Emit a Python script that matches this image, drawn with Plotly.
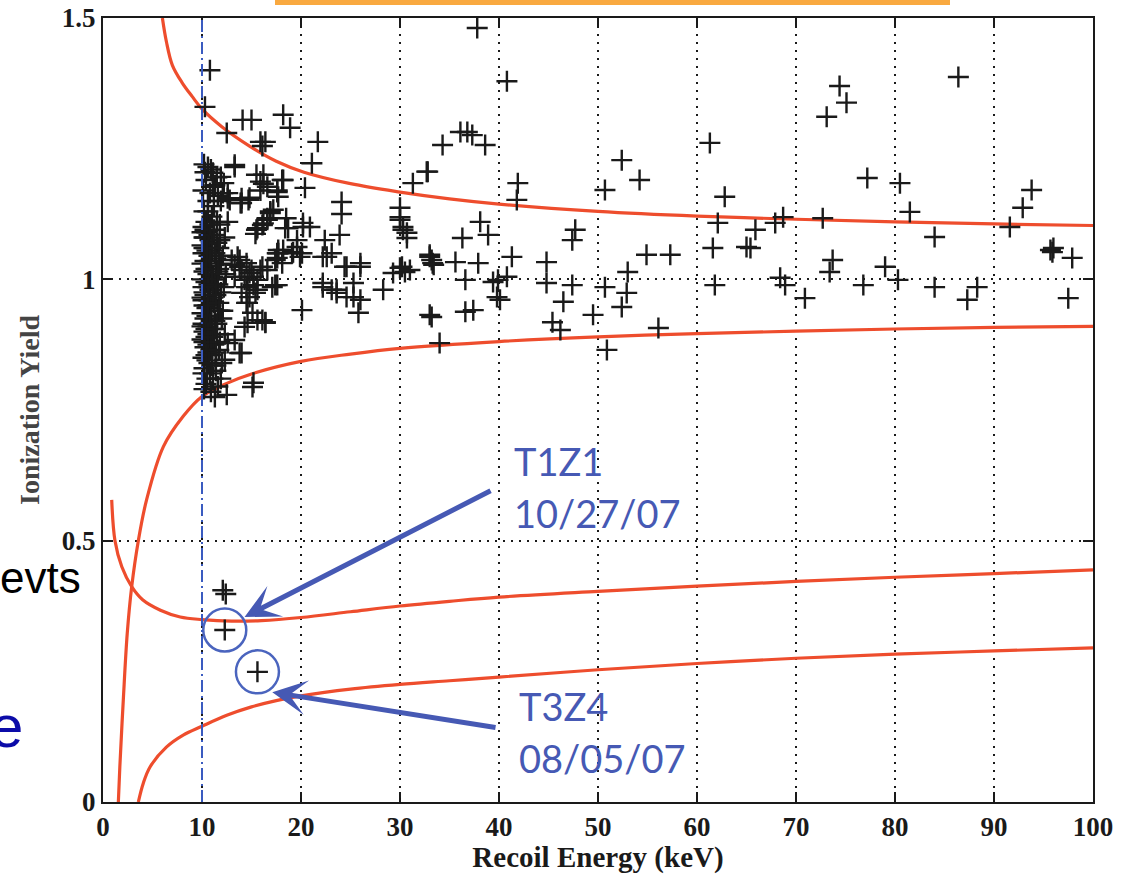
import plotly.graph_objects as go

# ---- event data: recoil energy (keV) and ionization yield ----
cluster_energy = [
    10.2, 10.9, 10.4, 11.3, 10.1, 11.6, 10.6, 10.2, 11.0, 10.4, 11.8, 10.1,
    10.0, 10.5, 11.2, 10.2, 10.8, 11.5, 10.0, 10.4, 11.0, 10.1, 10.7, 11.4,
    10.3, 10.0, 10.9, 11.7, 10.2, 10.6, 11.1, 10.0, 10.4, 11.3, 10.1, 10.8,
    11.9, 10.3, 10.0, 10.7, 11.2, 10.2, 10.5, 11.6, 10.0, 10.9, 10.3, 11.3,
    10.1, 10.6, 11.0, 10.2, 11.5, 10.4, 10.0, 10.8, 11.2, 10.3, 10.6, 11.0,
    10.1, 10.5, 11.4, 10.2, 10.8, 11.1, 10.4, 11.6, 10.9, 11.3,
    10.3, 10.6, 10.1, 10.5, 10.7, 10.2, 10.9, 11.4, 10.6, 10.0,
    10.3, 10.7, 11.0, 10.5, 11.3, 10.8, 10.4, 11.0, 10.6, 10.2, 11.1, 10.6,
    10.8, 10.4, 10.6, 10.2, 11.1, 10.9, 10.4, 11.4, 10.7, 10.1, 11.0, 10.5,
    10.2, 11.3, 11.6, 11.9, 12.1, 11.8, 12.0, 11.5, 10.6, 11.2, 10.8, 11.5,
    10.3, 11.9, 12.3, 11.7,
    11.8, 12.1, 11.6, 12.2, 11.7, 12.0, 11.5, 12.3, 11.7, 11.4, 11.9, 12.4,
    11.2, 10.8, 11.4, 11.8,
]
cluster_yield = [
    1.22, 1.21, 1.19, 1.18, 1.17, 1.16, 1.15, 1.13, 1.12, 1.11, 1.105, 1.10,
    1.09, 1.09, 1.085, 1.08, 1.075, 1.07, 1.065, 1.06, 1.055, 1.05, 1.045, 1.04,
    1.035, 1.03, 1.025, 1.02, 1.015, 1.01, 1.005, 1.00, 0.995, 0.99, 0.985, 0.98,
    0.975, 0.97, 0.965, 0.96, 0.955, 0.95, 0.945, 0.94, 0.935, 0.93, 0.925, 0.92,
    0.915, 0.91, 0.905, 0.90, 0.895, 0.89, 0.885, 0.88, 0.875, 0.87, 0.86, 0.855,
    0.85, 0.845, 0.835, 0.83, 0.82, 0.81, 0.80, 0.795, 0.785, 0.775,
    1.08, 1.02, 0.96, 0.93, 0.99, 1.06, 0.95, 1.00, 0.875, 0.91,
    1.095, 1.085, 1.07, 1.055, 1.05, 1.035, 1.02, 1.00, 0.985, 0.975, 0.965, 0.95,
    0.915, 0.905, 0.895, 0.88, 0.89, 0.865, 0.855, 0.86, 0.84, 0.82, 0.835, 0.81,
    0.79, 0.905, 0.99, 1.03, 0.94, 0.88, 0.84, 1.11, 1.13, 1.14, 1.165, 1.195,
    1.205, 1.15, 1.08, 1.06,
    1.075, 1.045, 1.015, 0.985, 0.955, 0.925, 0.915, 0.895, 0.865, 0.825, 0.81, 1.01,
    1.095, 1.105, 0.97, 0.94,
]

scatter_energy = [
    10.8, 10.3, 14.1, 15.0, 12.5, 18.2, 18.9, 15.9, 16.4, 16.1, 21.7, 21.1,
    20.4, 13.3, 10.6, 11.1, 18.2, 15.9, 16.6, 11.1, 12.1, 12.8, 24.1, 24.1,
    30.0, 14.7, 17.7, 17.2, 16.9, 15.5, 16.6, 18.4, 20.2, 20.9, 23.9, 22.4,
    19.6, 20.1, 17.6, 18.2, 22.6, 24.6, 26.0, 29.3, 22.2, 23.6, 25.3, 13.8,
    14.5, 15.2, 16.6, 17.6,
    16.2, 17.6, 14.8, 14.0, 12.6, 30.0, 30.3, 30.7, 32.7, 31.3, 16.1, 20.2,
    12.6, 19.6, 19.9, 19.2, 17.7, 17.6, 22.2, 23.1, 26.0, 24.4, 30.2, 30.5,
    33.0, 33.3, 13.8, 13.3, 14.8, 15.9, 14.3, 15.2, 15.6, 17.4, 14.0, 14.5,
    14.8, 22.2, 23.1, 23.6, 24.6, 25.3, 26.0, 25.8, 28.3, 20.1, 14.6, 15.6,
    16.4, 33.0, 34.0, 13.8, 15.2, 12.5,
    13.0, 13.6, 14.0, 13.3, 15.0, 16.1, 14.6, 15.6, 14.5, 15.4, 14.6, 15.1,
    16.1, 16.4, 14.3, 13.3, 14.0, 12.6, 12.3, 15.1, 17.7, 17.4, 18.1, 19.1,
    17.1,
    13.3, 11.9, 12.2, 12.6, 13.9, 14.0, 15.5, 16.2, 15.9, 18.1, 17.6, 16.9,
    16.6, 16.2, 15.6, 15.4, 18.7, 18.5,
    34.3, 36.1, 36.8, 37.3, 38.6, 32.8, 41.9, 41.8, 30.0, 30.3, 30.7, 38.1,
    36.3, 38.9, 33.0, 33.2, 33.4, 35.6, 37.9, 41.3, 30.0, 31.0, 36.6, 39.4,
    39.9, 40.8, 39.8, 40.1, 33.2, 36.6, 37.4, 44.8, 47.7, 47.4, 44.8, 47.4,
    46.5, 45.4, 46.2, 49.5, 50.7, 50.9, 52.4, 54.2, 50.7, 53.0, 52.9, 52.4,
    54.9, 57.3, 56.1, 61.3, 62.8, 62.1, 61.6, 61.8, 65.0,
    65.9, 65.4, 67.9, 68.7, 68.4, 68.9, 70.9, 72.7, 73.1, 74.4, 75.1, 73.7,
    73.4, 76.8, 77.2, 79.0, 80.3, 80.5, 81.5, 84.0, 84.0, 86.4, 88.3, 87.3,
    91.6, 92.9, 93.8, 95.7, 96.0, 95.9, 97.9, 97.5,
    37.8, 40.8,
    12.1, 12.4,
]
scatter_yield = [
    1.40, 1.33, 1.305, 1.305, 1.28, 1.315, 1.29, 1.263, 1.263, 1.255, 1.263, 1.222,
    1.175, 1.215, 1.215, 1.204, 1.19, 1.187, 1.177, 1.177, 1.165, 1.152, 1.148, 1.125,
    1.137, 1.152, 1.158, 1.133, 1.127, 1.095, 1.114, 1.098, 1.100, 1.100, 1.085, 1.075,
    1.062, 1.050, 1.050, 1.056, 1.043, 1.024, 1.024, 1.012, 0.993, 0.980, 0.993, 1.024,
    1.031, 1.005, 1.018, 0.989,
    1.20, 1.167, 1.156, 1.146, 1.165, 1.114, 1.095, 1.079, 1.206, 1.184, 1.104, 1.108,
    1.110, 1.075, 1.043, 1.052, 1.056, 1.041, 1.043, 1.050, 1.031, 1.024, 1.024, 1.014,
    1.043, 1.031, 1.037, 1.028, 1.012, 1.018, 0.999, 0.989, 0.980, 0.989, 0.974, 0.955,
    0.966, 0.985, 0.980, 0.974, 0.966, 0.966, 0.961, 0.936, 0.980, 0.941, 0.917, 0.922,
    0.918, 0.932, 0.878, 0.859, 0.802, 0.779,
    1.037, 1.043, 1.018, 1.005, 1.018, 1.024, 0.999, 0.999, 0.985, 0.974, 0.955, 0.936,
    0.922, 0.917, 0.909, 0.884, 0.859, 0.878, 0.846, 0.794, 1.050, 1.037, 1.031, 1.050,
    0.985,
    1.219, 1.196, 1.184, 1.155, 1.146, 1.155, 1.20, 1.183, 1.170, 1.190, 1.170, 1.130,
    1.117, 1.107, 1.098, 1.087, 1.098, 1.117,
    1.257, 1.282, 1.282, 1.276, 1.257, 1.206, 1.184, 1.152, 1.119, 1.100, 1.089, 1.110,
    1.079, 1.085, 1.047, 1.037, 1.028, 1.033, 1.031, 1.043, 1.022, 1.018, 0.999, 0.995,
    0.999, 1.005, 0.966, 0.961, 0.928, 0.938, 0.941, 1.033, 1.095, 1.075, 0.993, 0.989,
    0.957, 0.918, 0.903, 0.932, 0.985, 0.865, 1.228, 1.190, 1.171, 1.014, 0.974, 0.947,
    1.047, 1.047, 0.907, 1.261, 1.158, 1.108, 1.060, 0.989, 1.062,
    1.095, 1.060, 1.108, 1.119, 1.003, 0.989, 0.964, 1.117, 1.311, 1.370, 1.338, 1.037,
    1.014, 0.989, 1.194, 1.024, 0.999, 1.184, 1.129, 1.081, 0.985, 1.387, 0.985, 0.961,
    1.100, 1.137, 1.171, 1.056, 1.060, 1.052, 1.041, 0.964,
    1.481, 1.379,
    0.405, 0.398,
]

# two nuclear-recoil candidates
candidate_energy = [12.3, 15.6]
candidate_yield = [0.329, 0.249]
candidate_tags = [["T1Z1", "10/27/07"], ["T3Z4", "08/05/07"]]

# electron-recoil band (upper / lower edge)
er_upper_energy = [6.0, 6.4, 7.0, 8.0, 9.0, 10.0, 12.0, 14.8, 17.5, 20.3, 25.0, 30.0,
                   35.0, 40.0, 50.0, 60.0, 70.0, 80.0, 90.0, 100.0]
er_upper_yield = [1.50, 1.455, 1.41, 1.376, 1.35, 1.326, 1.292, 1.255, 1.226, 1.205, 1.183, 1.167,
                  1.154, 1.144, 1.130, 1.121, 1.115, 1.110, 1.106, 1.103]
er_lower_energy = [1.55, 1.7, 2.05, 2.45, 2.9, 3.57, 4.4, 6.1, 8.1, 10.0, 12.5, 15.0,
                   20.0, 25.0, 30.0, 40.0, 50.0, 60.0, 70.0, 80.0, 90.0, 100.0]
er_lower_yield = [0.0, 0.067, 0.195, 0.323, 0.412, 0.50, 0.578, 0.68, 0.738, 0.776, 0.801, 0.819,
                  0.843, 0.857, 0.868, 0.881, 0.890, 0.896, 0.901, 0.905, 0.908, 0.910]

# nuclear-recoil band (upper / lower edge)
nr_upper_energy = [0.88, 1.21, 1.9, 2.9, 4.0, 5.8, 7.8, 10.0, 13.0, 16.0, 20.0, 25.0,
                   30.0, 35.0, 40.0, 50.0, 60.0, 70.0, 80.0, 90.0, 100.0]
nr_upper_yield = [0.578, 0.50, 0.45, 0.412, 0.387, 0.367, 0.354, 0.349, 0.346, 0.347, 0.353, 0.364,
                  0.375, 0.384, 0.392, 0.403, 0.413, 0.422, 0.430, 0.437, 0.444]
nr_lower_energy = [3.57, 4.07, 4.75, 6.4, 8.1, 10.0, 12.5, 15.0, 17.5, 20.0, 25.0, 30.0,
                   35.0, 40.0, 50.0, 60.0, 70.0, 80.0, 90.0, 100.0]
nr_lower_yield = [0.0, 0.036, 0.067, 0.105, 0.128, 0.145, 0.166, 0.182, 0.194, 0.203, 0.216, 0.225,
                  0.232, 0.239, 0.253, 0.265, 0.275, 0.283, 0.289, 0.295]

threshold_kev = 10
x_ticks = [0, 10, 20, 30, 40, 50, 60, 70, 80, 90, 100]
y_ticks = [0, 0.5, 1, 1.5]
y_tick_text = ["0", "0.5", "1", "1.5"]

RED = "#EE4D2D"
BLUE = "#4659B4"
INK = "#1a1a1a"

fig = go.Figure()

for ex, ey in [(er_upper_energy, er_upper_yield), (er_lower_energy, er_lower_yield),
               (nr_upper_energy, nr_upper_yield), (nr_lower_energy, nr_lower_yield)]:
    fig.add_trace(go.Scatter(x=ex, y=ey, mode="lines",
                             line=dict(color=RED, width=3.2, shape="spline", smoothing=1.0),
                             hoverinfo="skip"))

cross = dict(symbol="cross-thin", size=15, color=INK, line=dict(color=INK, width=2.4))
fig.add_trace(go.Scatter(x=cluster_energy, y=cluster_yield, mode="markers", marker=cross))
fig.add_trace(go.Scatter(x=scatter_energy, y=scatter_yield, mode="markers", marker=cross))
fig.add_trace(go.Scatter(x=candidate_energy, y=candidate_yield, mode="markers", marker=cross))
fig.add_trace(go.Scatter(x=candidate_energy, y=candidate_yield, mode="markers",
                         marker=dict(symbol="circle-open", size=43, color="#4A64BE",
                                     line=dict(color="#4A64BE", width=2.5))))

# analysis threshold
fig.add_shape(type="line", xref="x", yref="y", x0=threshold_kev, x1=threshold_kev,
              y0=0, y1=1.5, line=dict(color="#3A5BC0", width=2, dash="12px,4px,2px,4px"))

# arrows from the tags to the candidates
tag_anchor = [(41.3, 0.652, 39.3, 0.597), (41.8, 0.184, 39.8, 0.142)]
head_offsets = [(2.0, 0.025), (1.5, -0.039)]
for i, (tx, ty, ax, ay) in enumerate(tag_anchor):
    dx, dy = head_offsets[i]
    fig.add_annotation(x=candidate_energy[i] + dx, y=candidate_yield[i] + dy,
                       ax=ax, ay=ay, axref="x", ayref="y", xref="x", yref="y",
                       text="", showarrow=True, arrowhead=3, arrowsize=1.15,
                       arrowwidth=5, arrowcolor=BLUE)
    for j, line in enumerate(candidate_tags[i]):
        fig.add_annotation(x=tx, y=ty - j * 0.099, xref="x", yref="y", text=line,
                           showarrow=False, xanchor="left", yanchor="middle",
                           font=dict(family="Lato", size=38, color=BLUE))

# slide fragments around the figure
fig.add_shape(type="rect", xref="paper", yref="paper",
              x0=(275 - 103) / 990, x1=(950 - 103) / 990,
              y0=(802 - 5) / 784, y1=(802 + 2) / 784,
              line=dict(width=0), fillcolor="#F9A940", layer="above")
fig.add_annotation(x=0, y=0, xref="paper", yref="paper", xshift=-20, yshift=225,
                   text="evts", showarrow=False, xanchor="right", yanchor="middle",
                   font=dict(family="Liberation Sans", size=44, color="#000000"))
fig.add_annotation(x=0, y=0, xref="paper", yref="paper", xshift=-78, yshift=76,
                   text="e", showarrow=False, xanchor="right", yanchor="middle",
                   font=dict(family="Liberation Sans", size=60, color="#0B0BA8"))

tick_font = dict(family="Liberation Serif", size=27, color=INK, weight="bold")
fig.update_layout(
    width=1131, height=874,
    margin=dict(l=103, r=38, t=18, b=72),
    plot_bgcolor="white", paper_bgcolor="white",
    showlegend=False,
    xaxis=dict(range=[0, 100], tickvals=x_ticks, ticks="inside", ticklen=10, tickwidth=2,
               tickcolor=INK, showline=True, linecolor=INK, linewidth=2, mirror="ticks",
               showgrid=True, gridcolor=INK, gridwidth=1.8, griddash="2px,6px",
               zeroline=False, tickfont=tick_font, automargin=False,
               title=dict(text="Recoil Energy (keV)", standoff=9,
                          font=dict(family="Liberation Serif", size=29, color=INK, weight="bold"))),
    yaxis=dict(range=[0, 1.5], tickvals=y_ticks, ticktext=y_tick_text, ticks="inside",
               ticklen=10, tickwidth=2, tickcolor=INK, showline=True, linecolor=INK,
               linewidth=2, mirror="ticks", showgrid=True, gridcolor=INK, gridwidth=1.8,
               griddash="2px,6px", zeroline=False, tickfont=tick_font, automargin=False,
               title=dict(text="Ionization Yield", standoff=14,
                          font=dict(family="Liberation Serif", size=28, color="#444444", weight="bold"))),
)

fig.write_html("out.html")
